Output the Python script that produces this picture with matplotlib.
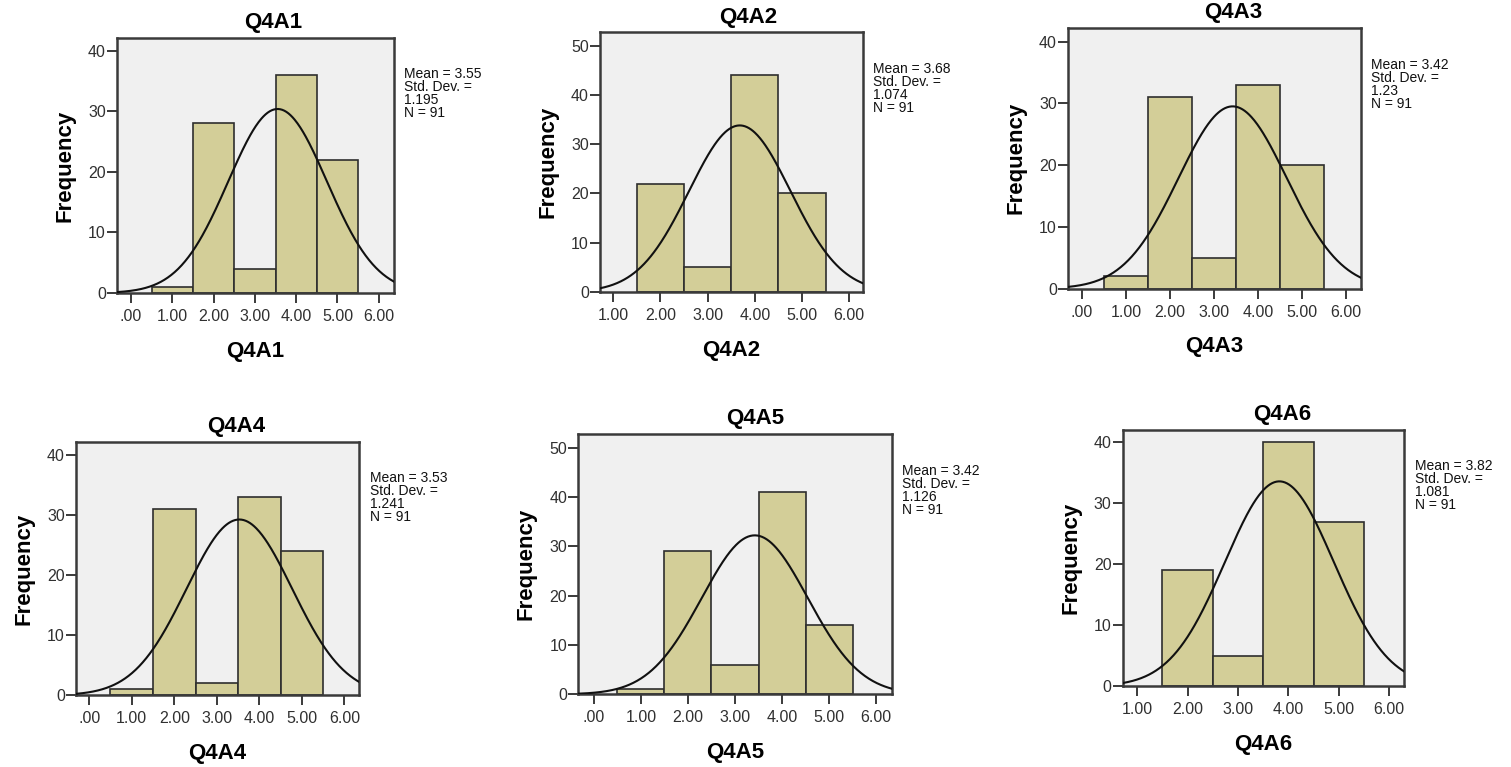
import numpy as np
import matplotlib
matplotlib.use("Agg")
import matplotlib.pyplot as plt

# ---- data ----
titles = ["Q4A1", "Q4A2", "Q4A3", "Q4A4", "Q4A5", "Q4A6"]
bin_centers = [
    [1, 2, 3, 4, 5],
    [2, 3, 4, 5],
    [1, 2, 3, 4, 5],
    [1, 2, 3, 4, 5],
    [1, 2, 3, 4, 5],
    [2, 3, 4, 5],
]
counts = [
    [1, 28, 4, 36, 22],
    [22, 5, 44, 20],
    [2, 31, 5, 33, 20],
    [1, 31, 2, 33, 24],
    [1, 29, 6, 41, 14],
    [19, 5, 40, 27],
]
means = [3.55, 3.68, 3.42, 3.53, 3.42, 3.82]
sds = [1.195, 1.074, 1.23, 1.241, 1.126, 1.081]
sd_labels = ["1.195", "1.074", "1.23", "1.241", "1.126", "1.081"]
ns = [91, 91, 91, 91, 91, 91]
xtick_values = [
    [0, 1, 2, 3, 4, 5, 6],
    [1, 2, 3, 4, 5, 6],
    [0, 1, 2, 3, 4, 5, 6],
    [0, 1, 2, 3, 4, 5, 6],
    [0, 1, 2, 3, 4, 5, 6],
    [1, 2, 3, 4, 5, 6],
]
ytick_max = [40, 50, 40, 40, 50, 40]

# ---- layout (pixels: left, top, right, bottom) ----
W, H = 1511, 767
boxes = [
    (117, 38, 394, 293),
    (600, 32.3, 863, 292),
    (1068, 28, 1360.7, 288.7),
    (76, 441.7, 359.3, 695.3),
    (578.3, 434, 891.7, 694.3),
    (1122.7, 430, 1404.3, 686.3),
]
xlims = [(-0.34, 6.37), (0.72, 6.29), (-0.32, 6.33), (-0.31, 6.35), (-0.33, 6.33), (0.71, 6.30)]
ytops = [42.1, 52.7, 42.2, 42.2, 52.8, 42.0]

bar_color = "#D3CE98"
edge_color = "#2E2E2E"
bg_color = "#F0F0F0"
spine_color = "#3A3A3A"

plt.rcParams['font.family'] = ['Liberation Sans', 'DejaVu Sans']

fig = plt.figure(figsize=(W / 100, H / 100), dpi=100)

def fmt_tick(v):
    s = f"{v:.2f}"
    if s.startswith("0"):
        s = s[1:]
    return s

for i in range(6):
    l, t, r, b = boxes[i]
    ax = fig.add_axes([l / W, 1 - b / H, (r - l) / W, (b - t) / H])
    ax.set_facecolor(bg_color)
    ax.bar(bin_centers[i], counts[i], width=1.0, color=bar_color,
           edgecolor=edge_color, linewidth=1.2, zorder=2)
    x0, x1 = xlims[i]
    xs = np.linspace(x0, x1, 400)
    pdf = ns[i] * 1.0 / (sds[i] * np.sqrt(2 * np.pi)) * np.exp(-0.5 * ((xs - means[i]) / sds[i]) ** 2)
    ax.plot(xs, pdf, color="#111111", linewidth=1.5, zorder=3)
    ax.set_xlim(x0, x1)
    ax.set_ylim(0, ytops[i])
    ax.set_xticks(xtick_values[i])
    ax.set_xticklabels([fmt_tick(v) for v in xtick_values[i]])
    ax.set_yticks(list(range(0, ytick_max[i] + 1, 10)))
    for sp in ax.spines.values():
        sp.set_color(spine_color)
        sp.set_linewidth(1.8)
    ax.tick_params(axis='both', direction='out', length=7.5, width=1.4,
                   color=spine_color, labelsize=11.5, labelcolor="#303030")
    ax.tick_params(axis='y', pad=0.5)
    ax.tick_params(axis='x', pad=4)
    ax.tick_params(top=False, right=False)
    ax.set_title(titles[i], fontsize=16, fontweight='bold', pad=7, x=0.565)
    ax.set_xlabel(titles[i], fontsize=16, fontweight='bold', labelpad=12)
    ax.set_ylabel("Frequency", fontsize=16, fontweight='bold', labelpad=9)
    stats = f"Mean = {means[i]:.2f}\nStd. Dev. =\n{sd_labels[i]}\nN = {ns[i]}"
    ax.annotate(stats, xy=(1, 0.885), xycoords='axes fraction',
                xytext=(7.5, 0), textcoords='offset points',
                ha='left', va='top', fontsize=10, linespacing=0.9,
                color="#111111", annotation_clip=False)

fig.savefig("out.png", dpi=100, facecolor="white")
